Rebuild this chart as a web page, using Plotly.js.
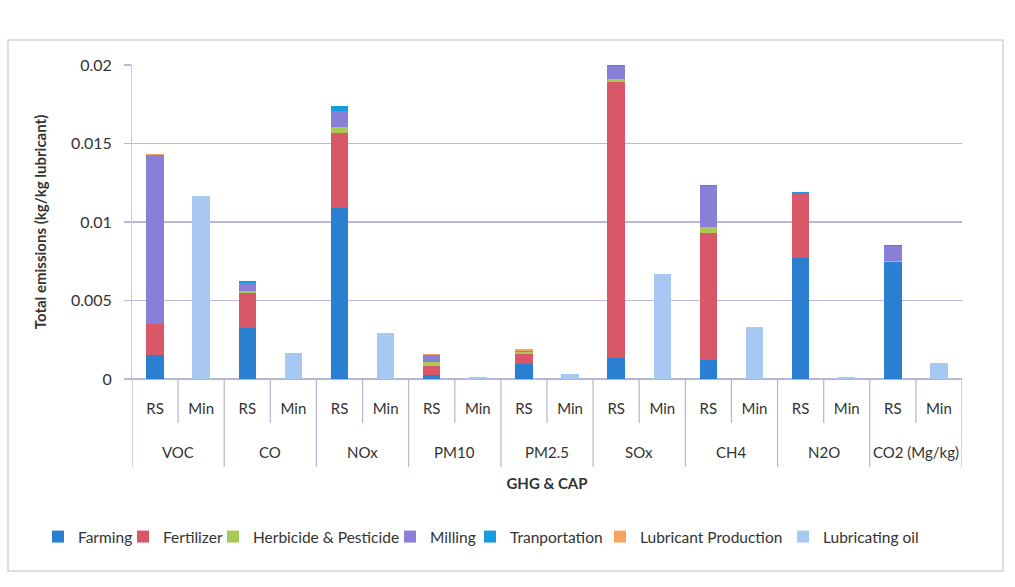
<!DOCTYPE html>
<html>
<head>
<meta charset="utf-8">
<script src="https://cdn.plot.ly/plotly-3.0.1.min.js"></script>
<style>
html,body{margin:0;padding:0;background:#fff;}
#chart{width:1015px;height:587px;}
</style>
</head>
<body>
<div id="chart"></div>
<script>
const groups = ["VOC","CO","NOx","PM10","PM2.5","SOx","CH4","N2O","CO2 (Mg/kg)"];
const cases = ["RS","Min"];

// values per group: [RS, Min]
const farming       = [0.00153,0, 0.00325,0, 0.0109,0, 0.00025,0, 0.00096,0, 0.00134,0, 0.00121,0, 0.0077,0, 0.00745,0];
const fertilizer    = [0.00197,0, 0.00225,0, 0.00477,0, 0.00058,0, 0.00064,0, 0.01758,0, 0.00809,0, 0.00408,0, 0.00002,0];
const herbicide     = [0.00003,0, 0.00008,0, 0.00038,0, 0.00025,0, 0.0001,0, 0.00018,0, 0.00038,0, 0.00001,0, 0.00003,0];
const milling       = [0.01074,0, 0.00052,0, 0.00102,0, 0.00045,0, 0.00008,0, 0.00084,0, 0.00262,0, 0.00002,0, 0.00095,0];
const transport     = [0.00002,0, 0.00014,0, 0.00032,0, 0.00002,0, 0.00002,0, 0.00003,0, 0.00003,0, 0.00012,0, 0.00008,0];
const lubProduction = [0.00004,0, 0.00002,0, 0.00002,0, 0.00004,0, 0.0001,0, 0.00003,0, 0.00003,0, 0.00001,0, 0.00002,0];
const lubOil        = [0,0.01166, 0,0.00166, 0,0.00293, 0,0.0001, 0,0.00032, 0,0.00669, 0,0.00331, 0,0.00012, 0,0.00102];

const seriesNames = ["Farming","Fertilizer","Herbicide & Pesticide","Milling","Tranportation","Lubricant Production","Lubricating oil"];
const seriesData = [farming, fertilizer, herbicide, milling, transport, lubProduction, lubOil];
const colors = ["#2a7fd0","#d95868","#a9c956","#8a7fd6","#179ce0","#f5a560","#a8c8f4"];
// legend entry widths (px) so the entries sit where the reference puts them
const legendWidths = [40, 45, 132, 35, 85, 138, 0];

const xKeys = [], xInner = [];
groups.forEach(g => cases.forEach(c => { xKeys.push(g + "|" + c); xInner.push(c); }));

const traces = seriesNames.map((n, i) => {
  const t = {
    type: "bar",
    name: n,
    x: xKeys,
    y: seriesData[i],
    marker: {color: colors[i]},
    hoverinfo: "name+y"
  };
  if (legendWidths[i]) t.legendwidth = legendWidths[i];
  return t;
});

const L = 132, R = 962, T = 65, B = 379;
const W = 1015, H = 587;
const px = v => (v - L) / (R - L);
const py = v => (B - v) / (B - T);
const divColor = "#b4b4d4";

const annotations = groups.map((g, i) => ({
  xref: "x", yref: "paper",
  x: 2 * i + 0.5, y: py(452),
  text: g, showarrow: false,
  xanchor: "center", yanchor: "middle",
  font: {size: 15, color: "#333"}
}));

const shapes = [{
  type: "rect", xref: "paper", yref: "paper",
  x0: px(8), x1: px(1003), y0: py(571), y1: py(40),
  line: {color: "#d4d4d4", width: 1.5}, fillcolor: "rgba(0,0,0,0)", layer: "below"
}];
for (let k = 0; k <= xKeys.length; k++) {
  const isGroup = (k % 2 === 0);
  shapes.push({
    type: "line", xref: "x", yref: "paper",
    x0: k - 0.5, x1: k - 0.5,
    y0: 0, y1: py(isGroup ? 467 : 423),
    line: {color: divColor, width: 1.2}
  });
}

const layout = {
  width: W, height: H,
  paper_bgcolor: "#ffffff",
  plot_bgcolor: "#ffffff",
  margin: {l: L, r: W - R, t: T, b: H - B},
  barmode: "stack",
  bargap: 0.62,
  font: {family: "Lato, 'Open Sans', sans-serif", color: "#333", size: 14},
  showlegend: true,
  legend: {
    orientation: "h", x: px(38), xanchor: "left", y: py(537), yanchor: "middle",
    font: {size: 15.5, color: "#333"}, traceorder: "normal",
    tracegroupgap: 0
  },
  xaxis: {
    type: "category",
    range: [-0.5, xKeys.length - 0.5],
    tickmode: "array", tickvals: xKeys, ticktext: xInner,
    showgrid: false,
    showline: true, linecolor: divColor, linewidth: 1.2,
    ticks: "", ticklabelstandoff: 16,
    tickfont: {size: 15, color: "#333"},
    title: {text: "GHG & CAP", font: {size: 15, color: "#333", weight: "bold"}, standoff: 62},
    fixedrange: true
  },
  yaxis: {
    range: [0, 0.02],
    dtick: 0.005,
    showgrid: true, gridcolor: "#b8b8d8", gridwidth: 1.2,
    zeroline: true, zerolinecolor: "#b8b8d8", zerolinewidth: 1.2,
    showline: true, linecolor: "#c8c8e0", linewidth: 1,
    tickfont: {size: 16, color: "#333"},
    ticks: "outside", ticklen: 7, tickcolor: "#b8b8d8", tickwidth: 1.2,
    ticklabelstandoff: 9,
    title: {text: "Total emissions (kg/kg lubricant)", font: {size: 15, color: "#333", weight: "bold"}, standoff: 20},
    fixedrange: true
  },
  annotations: annotations,
  shapes: shapes
};

Plotly.newPlot("chart", traces, layout, {displayModeBar: false, staticPlot: true});
</script>
</body>
</html>
